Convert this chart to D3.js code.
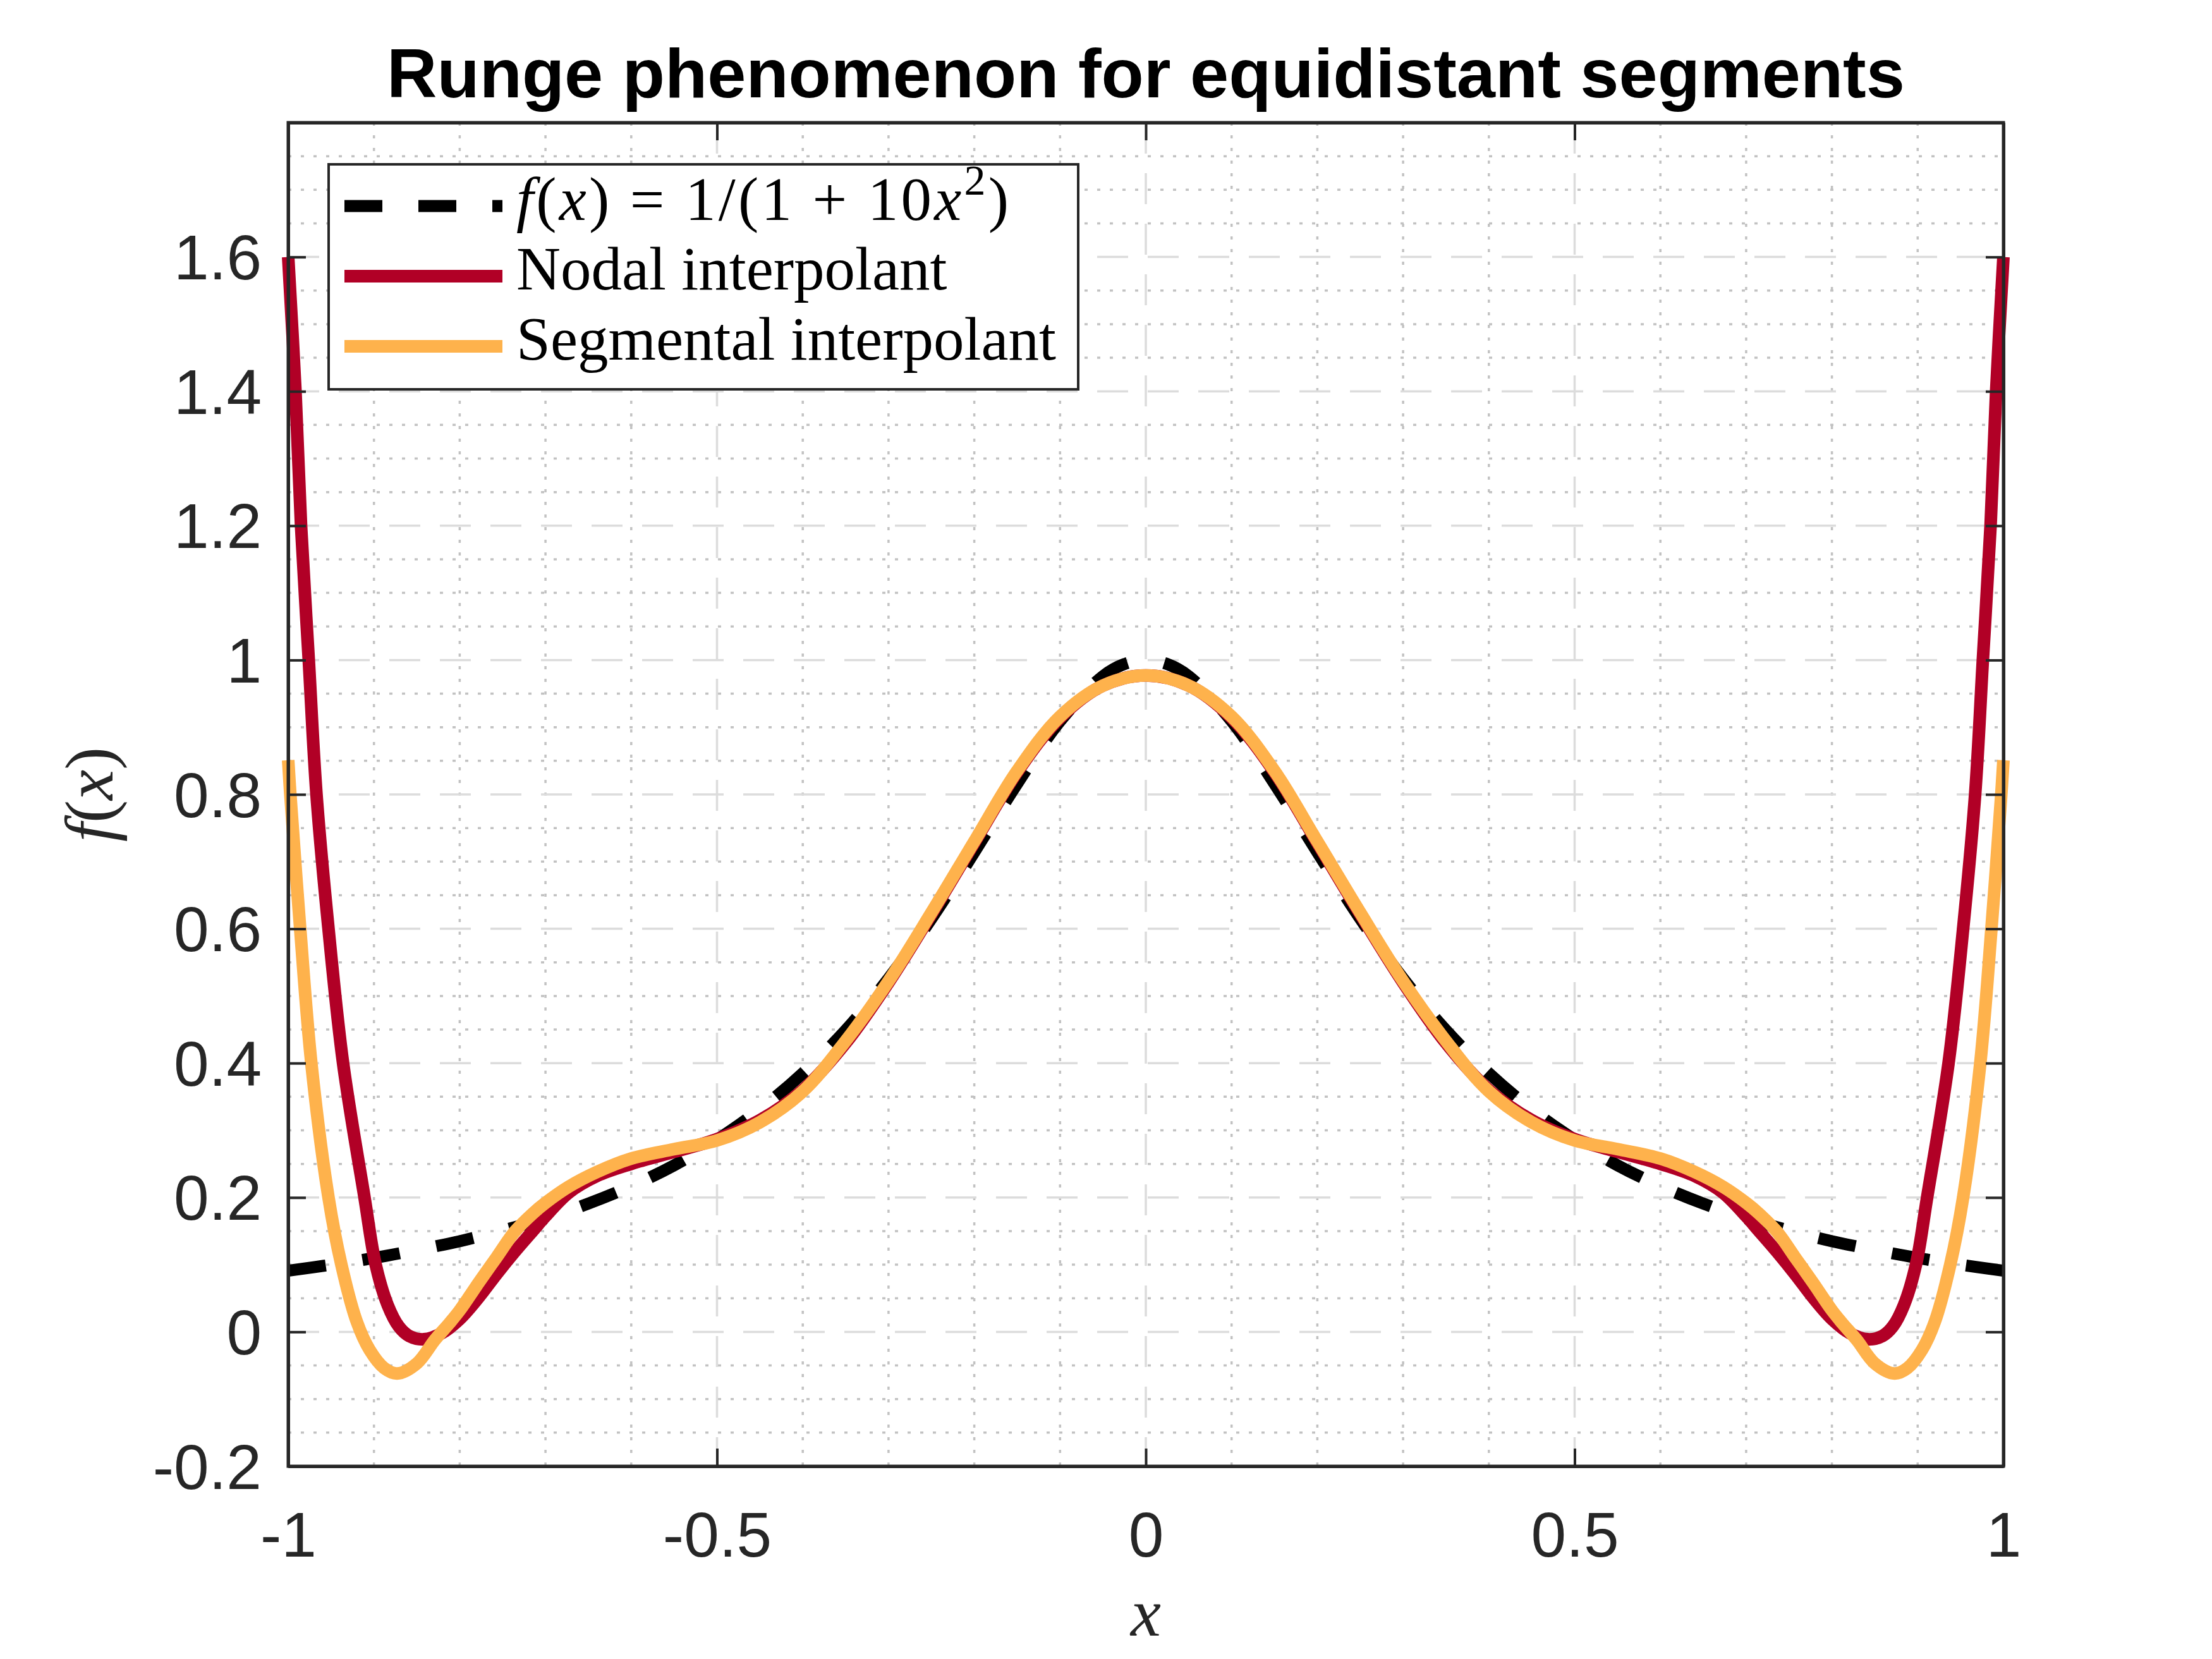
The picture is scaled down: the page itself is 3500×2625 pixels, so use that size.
<!DOCTYPE html>
<html lang="en">

<head>
    <meta charset="UTF-8">
    <title>Runge phenomenon for equidistant segments</title>
    <script src="https://d3js.org/d3.v7.min.js"></script>
    <style>
        body {
            margin: 0;
            background: #fff;
        }

        .axis text {
            font-family: "Liberation Sans", Arial, sans-serif;
            font-size: 100px;
            fill: #262626;
        }

        .axis path,
        .axis line {
            stroke: #262626;
        }

        .tex {
            font-family: "Liberation Serif", "Times New Roman", serif;
            fill: #000;
        }
    </style>
</head>

<body>
    <svg id="chart"></svg>

    <script>
        // values
        const funcX = [-1, -0.95, -0.9, -0.85, -0.8, -0.75, -0.7, -0.65, -0.6, -0.55, -0.5, -0.45, -0.4, -0.35, -0.3,
            -0.25, -0.2, -0.15, -0.1, -0.05, -0.025, 0, 0.025, 0.05, 0.1, 0.15, 0.2, 0.25, 0.3, 0.35, 0.4, 0.45, 0.5,
            0.55, 0.6, 0.65, 0.7, 0.75, 0.8, 0.85, 0.9, 0.95, 1];
        const funcY = [0.091, 0.100, 0.110, 0.122, 0.135, 0.151, 0.169, 0.191, 0.217, 0.248, 0.286, 0.331, 0.385, 0.449,
            0.526, 0.615, 0.714, 0.816, 0.909, 0.976, 0.994, 1.0, 0.994, 0.976, 0.909, 0.816, 0.714, 0.615, 0.526, 0.449,
            0.385, 0.331, 0.286, 0.248, 0.217, 0.191, 0.169, 0.151, 0.135, 0.122, 0.110, 0.100, 0.091];

        const nodalX = [-1, -0.9915, -0.985, -0.976, -0.967, -0.953, -0.936, -0.911, -0.898, -0.884, -0.871, -0.859,
            -0.842, -0.821, -0.8, -0.778, -0.757, -0.736, -0.715, -0.7, -0.673, -0.64, -0.6, -0.55, -0.5, -0.45, -0.4,
            -0.35, -0.3, -0.25, -0.2, -0.15, -0.1, -0.05, 0,
            0.05, 0.1, 0.15, 0.2, 0.25, 0.3, 0.35, 0.4, 0.45, 0.5, 0.55, 0.6, 0.64, 0.673, 0.7, 0.715, 0.736, 0.757,
            0.778, 0.8, 0.821, 0.842, 0.859, 0.871, 0.884, 0.898, 0.911, 0.936, 0.953, 0.967, 0.976, 0.985, 0.9915, 1];
        const nodalY = [1.6, 1.4, 1.2, 1.0, 0.8, 0.6, 0.4, 0.2, 0.1, 0.04, 0.008, -0.006,
            -0.011, -0.002, 0.019, 0.051, 0.086, 0.119, 0.15, 0.172, 0.207, 0.232, 0.25, 0.268, 0.287, 0.315, 0.36,
            0.43, 0.52, 0.622, 0.728, 0.833, 0.914, 0.962, 0.977,
            0.962, 0.914, 0.833, 0.728, 0.622, 0.52, 0.43, 0.36, 0.315, 0.287, 0.268, 0.25, 0.232, 0.207, 0.172, 0.15,
            0.119, 0.086, 0.051, 0.019, -0.002, -0.011, -0.006, 0.008, 0.04, 0.1, 0.2, 0.4, 0.6, 0.8, 1.0, 1.2, 1.4, 1.6];

        const segX = [-1, -0.9975, -0.986, -0.973, -0.953, -0.938, -0.92, -0.905, -0.888, -0.873, -0.85, -0.829,
            -0.812, -0.8, -0.778, -0.757, -0.736, -0.715, -0.7, -0.673, -0.64, -0.6, -0.55, -0.5, -0.45, -0.4, -0.35,
            -0.3, -0.25, -0.2, -0.15, -0.1, -0.05, 0,
            0.05, 0.1, 0.15, 0.2, 0.25, 0.3, 0.35, 0.4, 0.45, 0.5, 0.55, 0.6, 0.64, 0.673, 0.7, 0.715, 0.736, 0.757,
            0.778, 0.8, 0.812, 0.829, 0.85, 0.873, 0.888, 0.905, 0.92, 0.938, 0.953, 0.973, 0.986, 0.9975, 1];
        const segY = [0.851, 0.8, 0.6, 0.4, 0.2, 0.1, 0.015, -0.027, -0.054, -0.062, -0.047, -0.012,
            0.013, 0.032, 0.073, 0.111, 0.149, 0.176, 0.192, 0.216, 0.238, 0.258, 0.272, 0.285, 0.312, 0.358, 0.433,
            0.522, 0.624, 0.73, 0.835, 0.916, 0.962, 0.977,
            0.962, 0.916, 0.835, 0.73, 0.624, 0.522, 0.433, 0.358, 0.312, 0.285, 0.272, 0.258, 0.238, 0.216, 0.192,
            0.176, 0.149, 0.111, 0.073, 0.032, 0.013, -0.012, -0.047, -0.062, -0.054, -0.027, 0.015, 0.1, 0.2, 0.4,
            0.6, 0.8, 0.851];

        const xTicks = [-1, -0.5, 0, 0.5, 1];
        const yTicks = [-0.2, 0, 0.2, 0.4, 0.6, 0.8, 1, 1.2, 1.4, 1.6];
        const xLabels = ["-1", "-0.5", "0", "0.5", "1"];
        const yLabels = ["-0.2", "0", "0.2", "0.4", "0.6", "0.8", "1", "1.2", "1.4", "1.6"];
        const seriesNames = ["Nodal interpolant", "Segmental interpolant"];

        const width = 3500;
        const height = 2625;
        const box = { left: 456, right: 3170, top: 194, bottom: 2320 };

        const svg = d3.select('#chart')
            .attr('width', width)
            .attr('height', height);

        svg.append('rect').attr('width', width).attr('height', height).attr('fill', '#fff');

        const x = d3.scaleLinear().domain([-1, 1]).range([box.left, box.right]);
        const y = d3.scaleLinear().domain([-0.2, 1.8]).range([box.bottom, box.top]);

        // grid: minor dotted first, then major dashed
        const grid = svg.append('g');
        const isMajor = (v, list) => list.some(t => Math.abs(t - v) < 1e-9);

        const minorX = x.ticks(20).filter(v => !isMajor(v, xTicks));
        const minorY = y.ticks(40).filter(v => !isMajor(v, yTicks));

        grid.selectAll('.minx').data(minorX).enter().append('line')
            .attr('x1', d => x(d)).attr('x2', d => x(d))
            .attr('y1', box.top).attr('y2', box.bottom)
            .attr('stroke', '#c2c2c2').attr('stroke-width', 3.5)
            .attr('stroke-dasharray', '5,15');

        grid.selectAll('.miny').data(minorY).enter().append('line')
            .attr('y1', d => y(d)).attr('y2', d => y(d))
            .attr('x1', box.left).attr('x2', box.right)
            .attr('stroke', '#c2c2c2').attr('stroke-width', 3.5)
            .attr('stroke-dasharray', '5,15');

        grid.selectAll('.majx').data(xTicks.slice(1, -1)).enter().append('line')
            .attr('x1', d => x(d)).attr('x2', d => x(d))
            .attr('y1', box.top).attr('y2', box.bottom)
            .attr('stroke', '#dcdcdc').attr('stroke-width', 3.5)
            .attr('stroke-dasharray', '49,31');

        grid.selectAll('.majy').data(yTicks.slice(1)).enter().append('line')
            .attr('y1', d => y(d)).attr('y2', d => y(d))
            .attr('x1', box.left).attr('x2', box.right)
            .attr('stroke', '#dcdcdc').attr('stroke-width', 3.5)
            .attr('stroke-dasharray', '49,31');

        // curves
        const line = d3.line()
            .x(d => x(d[0]))
            .y(d => y(d[1]))
            .curve(d3.curveCatmullRom.alpha(0.5));

        const plot = svg.append('g');

        const funcPath = plot.append('path')
            .datum(d3.zip(funcX, funcY))
            .attr('d', line)
            .attr('fill', 'none')
            .attr('stroke', '#000')
            .attr('stroke-width', 19);

        // stretch the gap a little so the dashes start and end on a dash, as in the reference
        const dashLen = 60;
        const total = funcPath.node().getTotalLength();
        const periods = Math.round((total - dashLen) / 117);
        const gapLen = (total - dashLen) / periods - dashLen;
        funcPath.attr('stroke-dasharray', `${dashLen},${gapLen}`);

        plot.append('path')
            .datum(d3.zip(nodalX, nodalY))
            .attr('d', line)
            .attr('fill', 'none')
            .attr('stroke', '#b10026')
            .attr('stroke-width', 20)
            .attr('stroke-linejoin', 'round');

        plot.append('path')
            .datum(d3.zip(segX, segY))
            .attr('d', line)
            .attr('fill', 'none')
            .attr('stroke', '#feb24c')
            .attr('stroke-width', 20)
            .attr('stroke-linejoin', 'round');

        // axes with inward ticks on all four sides
        const tickLen = 28;

        svg.append('g').attr('class', 'axis x-bottom')
            .attr('transform', `translate(0,${box.bottom})`)
            .call(d3.axisBottom(x).tickValues(xTicks).tickFormat((d, i) => xLabels[i])
                .tickSizeInner(-tickLen).tickSizeOuter(0).tickPadding(72));

        svg.append('g').attr('class', 'axis')
            .attr('transform', `translate(0,${box.top})`)
            .call(d3.axisTop(x).tickValues(xTicks).tickFormat('')
                .tickSizeInner(-tickLen).tickSizeOuter(0));

        svg.append('g').attr('class', 'axis y-left')
            .attr('transform', `translate(${box.left},0)`)
            .call(d3.axisLeft(y).tickValues(yTicks).tickFormat((d, i) => yLabels[i])
                .tickSizeInner(-tickLen).tickSizeOuter(0).tickPadding(42));

        svg.append('g').attr('class', 'axis')
            .attr('transform', `translate(${box.right},0)`)
            .call(d3.axisRight(y).tickValues(yTicks).tickFormat('')
                .tickSizeInner(-tickLen).tickSizeOuter(0));

        svg.selectAll('.axis path').attr('stroke-width', 5);
        svg.selectAll('.axis line').attr('stroke-width', 4);
        svg.selectAll('.axis').attr('font-size', null).attr('font-family', null);
        svg.selectAll('.y-left .tick text').attr('dy', '0.35em');
        svg.selectAll('.x-bottom .tick text').attr('dy', '0.71em');

        // close the box at the corners
        svg.append('rect')
            .attr('x', box.left).attr('y', box.top)
            .attr('width', box.right - box.left).attr('height', box.bottom - box.top)
            .attr('fill', 'none').attr('stroke', '#262626').attr('stroke-width', 5);

        // title and axis labels
        svg.append('text')
            .attr('x', (box.left + box.right) / 2)
            .attr('y', 154)
            .attr('text-anchor', 'middle')
            .attr('font-family', '"Liberation Sans", Arial, sans-serif')
            .attr('font-weight', 'bold')
            .attr('font-size', 110)
            .text('Runge phenomenon for equidistant segments');

        const xl = svg.append('text').attr('class', 'tex')
            .attr('x', (box.left + box.right) / 2).attr('y', 2588)
            .attr('text-anchor', 'middle')
            .attr('font-size', 108)
            .style('fill', '#262626');
        xl.append('tspan').attr('font-style', 'italic').text('x');

        const yl = svg.append('text').attr('class', 'tex')
            .attr('transform', `translate(178,${(box.top + box.bottom) / 2}) rotate(-90)`)
            .attr('text-anchor', 'middle')
            .attr('font-size', 108)
            .style('fill', '#262626');
        yl.append('tspan').attr('font-style', 'italic').text('f');
        yl.append('tspan').text('(');
        yl.append('tspan').attr('font-style', 'italic').text('x');
        yl.append('tspan').text(')');

        // legend
        const legend = svg.append('g');
        legend.append('rect')
            .attr('x', 520).attr('y', 260)
            .attr('width', 1186).attr('height', 356)
            .attr('fill', '#fff')
            .attr('stroke', '#262626')
            .attr('stroke-width', 4);

        const legendY = [326, 437, 548];
        const legendStyles = [
            { color: '#000', dash: '60,57', w: 19 },
            { color: '#b10026', dash: null, w: 20 },
            { color: '#feb24c', dash: null, w: 20 }
        ];

        legendStyles.forEach((s, i) => {
            legend.append('line')
                .attr('x1', 545).attr('x2', 795)
                .attr('y1', legendY[i]).attr('y2', legendY[i])
                .attr('stroke', s.color)
                .attr('stroke-width', s.w)
                .attr('stroke-dasharray', s.dash);
        });

        const eq = legend.append('text').attr('class', 'tex')
            .attr('x', 817).attr('y', legendY[0] + 22)
            .attr('font-size', 97)
            .attr('textLength', 779)
            .attr('lengthAdjust', 'spacing');
        eq.append('tspan').attr('font-style', 'italic').text('f');
        eq.append('tspan').text('(');
        eq.append('tspan').attr('font-style', 'italic').text('x');
        eq.append('tspan').text(') = 1/(1 + 10');
        eq.append('tspan').attr('font-style', 'italic').text('x');
        eq.append('tspan').attr('font-size', 68).attr('dy', -40).text('2');
        eq.append('tspan').attr('dy', 40).text(')');

        seriesNames.forEach((name, i) => {
            legend.append('text').attr('class', 'tex')
                .attr('x', 817).attr('y', legendY[i + 1] + 21)
                .attr('font-size', 97)
                .text(name);
        });
    </script>

</body>

</html>
